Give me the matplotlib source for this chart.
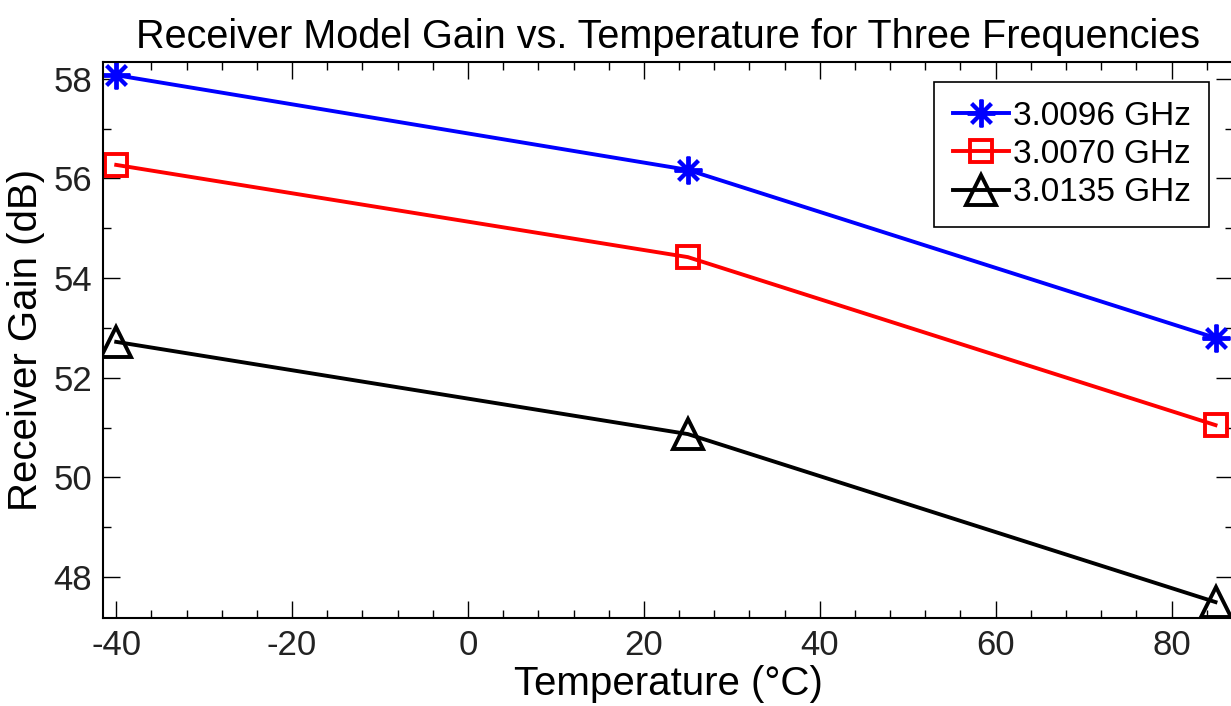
import numpy as np
import matplotlib.pyplot as plt
from matplotlib.ticker import MultipleLocator

plt.rcParams['font.family'] = ['Liberation Sans', 'DejaVu Sans']
plt.rcParams['axes.unicode_minus'] = False

# Data
temps = [-40, 25, 85]
gain_30096 = [58.07, 56.17, 52.80]
gain_30070 = [56.27, 54.42, 51.05]
gain_30135 = [52.72, 50.87, 47.50]
labels = ['3.0096 GHz', '3.0070 GHz', '3.0135 GHz']

fig = plt.figure(figsize=(12.31, 7.06), dpi=100)
ax = fig.add_axes([0.0837, 0.1246, 0.918, 0.788])

ax.plot(temps, gain_30096, color='blue', lw=2.8, marker=(8, 2, 0),
        ms=20, mew=2.8, label=labels[0])
ax.plot(temps, gain_30070, color='red', lw=2.8, marker='s', ms=15.5,
        mfc='none', mew=2.8, label=labels[1])
ax.plot(temps, gain_30135, color='black', lw=2.8, marker='^', ms=21,
        mfc='none', mew=2.8, label=labels[2])

ax.set_xlim(-41.5, 87)
ax.set_ylim(47.18, 58.34)
ax.xaxis.set_major_locator(MultipleLocator(20))
ax.xaxis.set_minor_locator(MultipleLocator(4))
ax.yaxis.set_major_locator(MultipleLocator(2))
ax.yaxis.set_minor_locator(MultipleLocator(1))
ax.tick_params(which='both', direction='in', top=True, right=True,
               labelsize=25, width=1.0, labelcolor='#222222')
ax.tick_params(which='major', length=12, pad=8)
ax.tick_params(which='minor', length=6)
for s in ax.spines.values():
    s.set_linewidth(1.5)

ax.set_xlabel('Temperature (°C)', fontsize=29, labelpad=2)
ax.set_ylabel('Receiver Gain (dB)', fontsize=29, labelpad=6)
ax.set_title('Receiver Model Gain vs. Temperature for Three Frequencies',
             fontsize=28.5, pad=10)

leg = ax.legend(loc='upper right', bbox_to_anchor=(0.9845, 0.975),
                fontsize=24, fancybox=False, framealpha=1,
                edgecolor='black', handlelength=1.7, handletextpad=0.1,
                borderpad=0.55, labelspacing=0.22, borderaxespad=0.2)
leg.get_frame().set_linewidth(1.2)

fig.savefig('out.png', dpi=100)
